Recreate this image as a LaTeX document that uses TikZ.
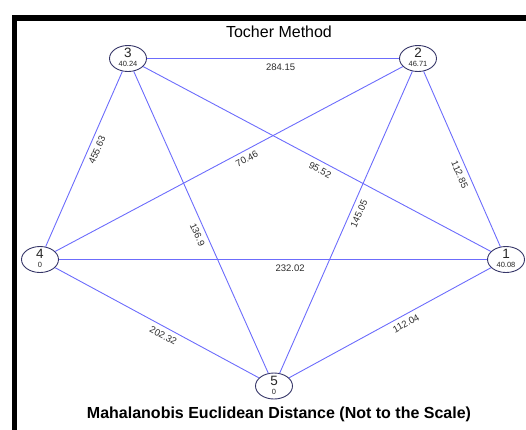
\documentclass[tikz,border=0pt]{standalone}
\usepackage{fontspec}
\setmainfont{Liberation Sans}
\usepackage{xcolor}
\usepackage{tikz}
\usetikzlibrary{shapes.geometric}

\definecolor{edgeblue}{RGB}{108,108,252}
\definecolor{rimnavy}{RGB}{55,55,105}
\definecolor{labgray}{RGB}{45,45,45}

% cluster number over its mean distance, centred on the node
\newcommand{\vtxt}[2]{%
  \makebox[0pt]{\raisebox{1pt}[0pt][0pt]{\fontsize{13.5}{13.5}\selectfont #1}}%
  \makebox[0pt]{\raisebox{-8pt}[0pt][0pt]{\fontsize{7.5}{7.5}\selectfont #2}}}

\begin{document}
\begin{tikzpicture}[x=1pt,y=-1pt,
    vertex/.style={ellipse, draw=rimnavy, line width=0.9pt, fill=white,
      minimum width=37pt, minimum height=26pt, inner sep=0pt, text=black!85},
    link/.style={draw=edgeblue, line width=0.9pt},
    dist/.style={font=\fontsize{9.5}{9.5}\selectfont, text=labgray, sloped,
      below=3pt, inner sep=1.5pt}]
    \useasboundingbox (0,0) rectangle (526,429);
    \clip (0,0) rectangle (526,429);
    \draw [line width=5.5pt] (14.5,440) -- (14.5,18) -- (540,18);

    \node (title) at (279,32) {\fontsize{16}{16}\selectfont Tocher Method};
    \node (n3) [vertex] at (128,58.5) {\vtxt{3}{40.24}};
    \node (n2) [vertex] at (418,58.5) {\vtxt{2}{46.71}};
    \node (n4) [vertex] at (40,259.5) {\vtxt{4}{0}};
    \node (n1) [vertex] at (506,259.5) {\vtxt{1}{40.08}};
    \node (n5) [vertex] at (274,386) {\vtxt{5}{0}};
    \node (caption) at (279,414) {\fontsize{16}{16}\selectfont\bfseries Mahalanobis Euclidean Distance (Not to the Scale)};

    \draw [link] (n3) -- node [dist, pos=0.53] {284.15} (n2);
    \draw [link] (n3) -- node [dist, pos=0.43] {455.63} (n4);
    \draw [link] (n4) -- node [dist, pos=0.54] {70.46} (n2);
    \draw [link] (n3) -- node [dist, pos=0.52] {95.52} (n1);
    \draw [link] (n3) -- node [dist, pos=0.53] {136.9} (n5);
    \draw [link] (n2) -- node [dist, pos=0.46] {145.05} (n5);
    \draw [link] (n2) -- node [dist, pos=0.57] {112.85} (n1);
    \draw [link] (n4) -- node [dist, pos=0.54] {232.02} (n1);
    \draw [link] (n4) -- node [dist, pos=0.55] {202.32} (n5);
    \draw [link] (n5) -- node [dist, pos=0.56] {112.04} (n1);
  \end{tikzpicture}
\end{document}
